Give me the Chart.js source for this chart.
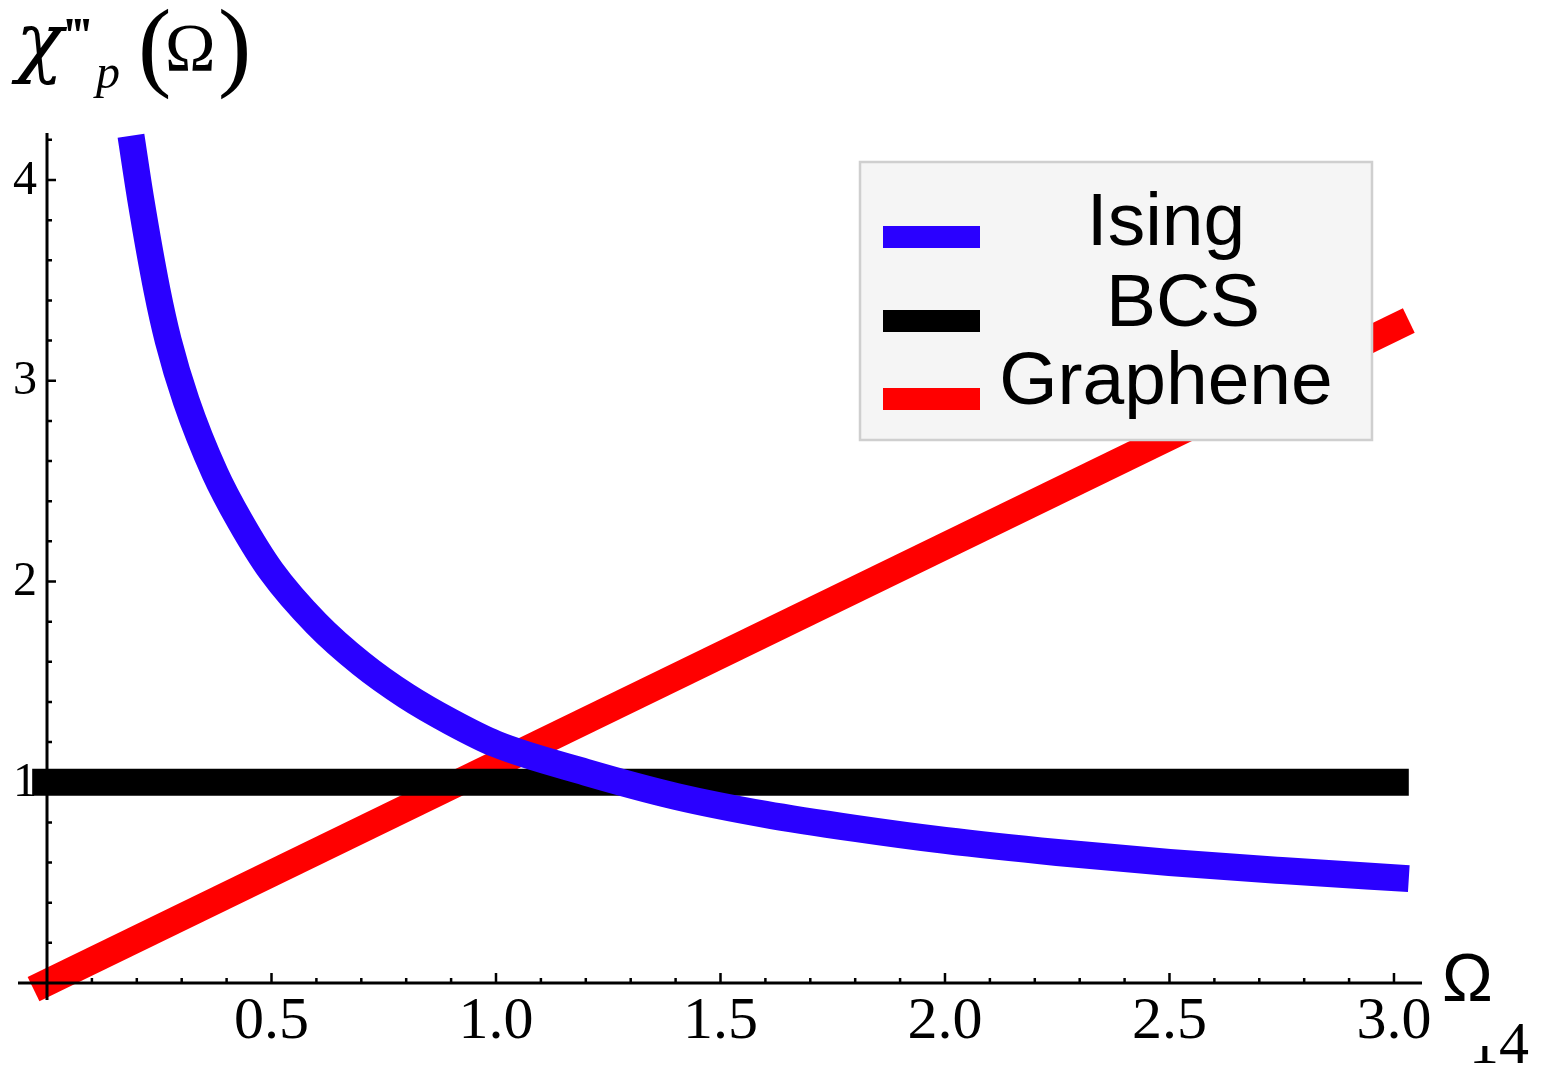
<!DOCTYPE html>
<html>
<head>
<meta charset="utf-8">
<script src="https://cdn.jsdelivr.net/npm/chart.js@4"></script>
<style>
  html, body { margin: 0; padding: 0; background: #fff; }
  #wrap { position: relative; width: 1541px; height: 1065px; }
</style>
</head>
<body>
<div id="wrap"><canvas id="chi"></canvas></div>
<script>
// Spectral response χ'''_p(Ω) for the three systems.
const isingOmega = [0.187, 0.209, 0.245, 0.27, 0.31, 0.374, 0.43, 0.5, 0.6, 0.7, 0.8, 0.9, 1.0, 1.2, 1.4, 1.6, 1.8, 2.0, 2.25, 2.5, 2.75, 3.033];
const isingChi   = [4.22, 3.90, 3.45, 3.20, 2.90, 2.54, 2.30, 2.05, 1.79, 1.59, 1.43, 1.30, 1.19, 1.05, 0.93, 0.84, 0.77, 0.71, 0.65, 0.60, 0.56, 0.52];

const bcsOmega = [-0.033, 3.033];
const bcsChi   = [1, 1];

const grapheneOmega = [-0.03, 3.033];
const grapheneChi   = [-0.03, 3.30];

const seriesLabels = ['Ising', 'BCS', 'Graphene'];
const seriesColors = ['#2a00ff', '#000000', '#ff0000'];

const xTickValues = [0.5, 1.0, 1.5, 2.0, 2.5, 3.0];
const xTickLabels = ['0.5', '1.0', '1.5', '2.0', '2.5', '3.0'];
const yTickValues = [1, 2, 3, 4];
const yTickLabels = ['1', '2', '3', '4'];

const SERIF = '"Liberation Serif", "Times New Roman", serif';
const SANS = '"Liberation Sans", Arial, sans-serif';

const toPoints = (xs, ys) => xs.map((v, i) => ({ x: v, y: ys[i] }));

// Mathematica-style axes: crossing at the origin, ticks pointing inward.
const axesPlugin = {
  id: 'originAxes',
  afterDatasetsDraw(chart) {
    const { ctx, scales: { x, y } } = chart;
    const x0 = x.getPixelForValue(0);
    const y0 = y.getPixelForValue(0);
    ctx.save();
    ctx.strokeStyle = '#000';
    ctx.lineWidth = 3;
    ctx.beginPath();
    ctx.moveTo(x.left, y0); ctx.lineTo(x.right, y0);
    ctx.moveTo(x0, y.bottom); ctx.lineTo(x0, y.top);
    ctx.stroke();

    ctx.lineWidth = 2.5;
    ctx.beginPath();
    for (let i = 1; i <= 30; i++) {
      const px = x.getPixelForValue(i / 10);
      const len = i % 5 === 0 ? 10 : 5;
      ctx.moveTo(px, y0); ctx.lineTo(px, y0 - len);
    }
    for (let i = 1; i <= 21; i++) {
      const py = y.getPixelForValue(i / 5);
      const len = i % 5 === 0 ? 9 : 5;
      ctx.moveTo(x0, py); ctx.lineTo(x0 + len, py);
    }
    ctx.stroke();

    ctx.fillStyle = '#000';
    ctx.font = `60px ${SERIF}`;
    ctx.textAlign = 'center';
    ctx.textBaseline = 'alphabetic';
    xTickValues.forEach((v, i) => ctx.fillText(xTickLabels[i], x.getPixelForValue(v), y0 + 55));

    ctx.font = `48px ${SERIF}`;
    ctx.textAlign = 'right';
    ctx.textBaseline = 'middle';
    yTickValues.forEach((v, i) => ctx.fillText(yTickLabels[i], x0 - 10, y.getPixelForValue(v) + 1));

    // axis label for Ω
    ctx.font = `68px ${SANS}`;
    ctx.textAlign = 'left';
    ctx.textBaseline = 'alphabetic';
    ctx.fillText('Ω', x.right + 20, y0 + 18);
    ctx.restore();
  }
};

const legendPlugin = {
  id: 'boxLegend',
  afterDatasetsDraw(chart) {
    const { ctx } = chart;
    const box = { left: 860, top: 162, width: 512, height: 278 };
    const rows = [
      { swatchY: 237, baseline: 245, textX: 1166 },
      { swatchY: 321, baseline: 326, textX: 1183 },
      { swatchY: 399, baseline: 404, textX: 1166 },
    ];
    ctx.save();
    ctx.fillStyle = '#f5f5f5';
    ctx.fillRect(box.left, box.top, box.width, box.height);
    ctx.strokeStyle = '#cfcfcf';
    ctx.lineWidth = 2.5;
    ctx.strokeRect(box.left, box.top, box.width, box.height);
    chart.data.datasets.forEach((ds, i) => {
      const r = rows[i];
      ctx.fillStyle = ds.borderColor;
      ctx.fillRect(883, r.swatchY - 11, 97, 22);
      ctx.fillStyle = '#000';
      ctx.font = `75px ${SANS}`;
      ctx.textAlign = 'center';
      ctx.fillText(ds.label, r.textX, r.baseline);
    });
    ctx.restore();
  }
};

const titlePlugin = {
  id: 'yTitle',
  afterDraw(chart) {
    const { ctx } = chart;
    ctx.save();
    ctx.fillStyle = '#000';
    ctx.textBaseline = 'alphabetic';
    ctx.textAlign = 'left';
    ctx.font = `italic 78px "DejaVu Serif", serif`;
    ctx.fillText('χ', 16, 68);
    ctx.font = `bold 50px ${SERIF}`;
    ctx.fillText('‴', 64, 52);
    ctx.font = `italic 48px ${SERIF}`;
    ctx.fillText('p', 96, 88);
    ctx.font = `100px ${SERIF}`;
    ctx.fillText('(', 138, 78);
    ctx.fillText(')', 218, 78);
    ctx.font = `68px ${SERIF}`;
    ctx.fillText('Ω', 165, 70);

    // page number, top of the "1" cut off
    ctx.font = `60px ${SERIF}`;
    ctx.fillText('4', 1499, 1063);
    ctx.beginPath();
    ctx.rect(1460, 1046, 40, 30);
    ctx.clip();
    ctx.fillText('1', 1469, 1063);
    ctx.restore();
  }
};

const lineStyle = { borderWidth: 27, pointRadius: 0, fill: false, clip: false, borderCapStyle: 'butt', borderJoinStyle: 'round' };

new Chart(document.getElementById('chi').getContext('2d'), {
  type: 'line',
  data: {
    datasets: [
      { label: seriesLabels[0], data: toPoints(isingOmega, isingChi), borderColor: seriesColors[0], cubicInterpolationMode: 'monotone', ...lineStyle },
      { label: seriesLabels[1], data: toPoints(bcsOmega, bcsChi), borderColor: seriesColors[1], ...lineStyle },
      { label: seriesLabels[2], data: toPoints(grapheneOmega, grapheneChi), borderColor: seriesColors[2], ...lineStyle },
    ],
  },
  options: {
    responsive: true,
    maintainAspectRatio: false,
    animation: false,
    layout: { padding: { left: 18, right: 119, top: 133, bottom: 65 } },
    scales: {
      x: { type: 'linear', min: -0.0646, max: 3.0624, display: false },
      y: { type: 'linear', min: -0.0847, max: 4.234, display: false },
    },
    plugins: {
      legend: { display: false },
      tooltip: { enabled: false },
    },
  },
  plugins: [axesPlugin, legendPlugin, titlePlugin],
});
</script>
</body>
</html>
